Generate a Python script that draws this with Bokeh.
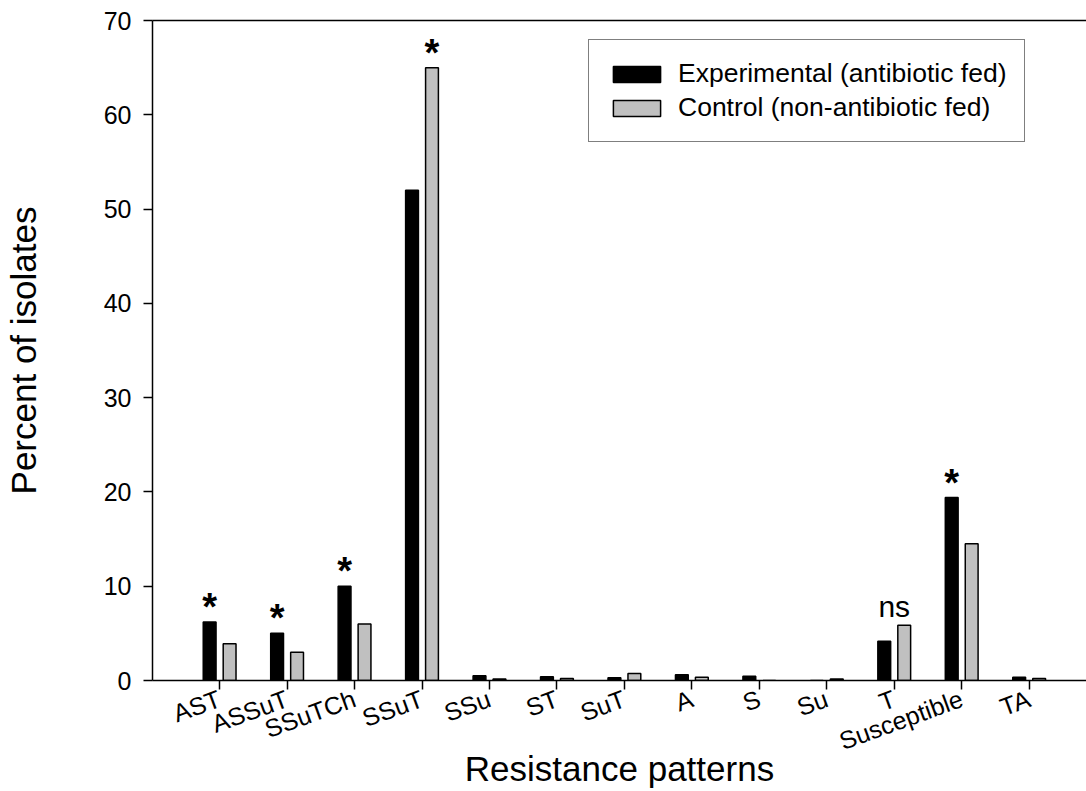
import math
from bokeh.plotting import figure
from bokeh.models import Range1d, FixedTicker, Legend, LegendItem, ColumnDataSource, LinearAxis
from bokeh.core.properties import value
from bokeh.embed import file_html
from bokeh.resources import INLINE

# ---- data ----
categories = ["AST", "ASSuT", "SSuTCh", "SSuT", "SSu", "ST", "SuT", "A", "S", "Su", "T", "Susceptible", "TA"]
experimental = [6.2, 5.0, 10.0, 52.0, 0.5, 0.4, 0.3, 0.6, 0.45, 0.0, 4.15, 19.4, 0.35]
control = [3.9, 3.0, 6.0, 65.0, 0.15, 0.2, 0.75, 0.35, 0.0, 0.15, 5.85, 14.5, 0.2]
# significance marks: (category index, text, which bar it sits over)
marks_cat = [0, 1, 2, 3, 10, 11]
marks_text = ["*", "*", "*", "*", "ns", "*"]
marks_over = ["exp", "exp", "exp", "ctl", "group", "exp"]
y_ticks = [0, 10, 20, 30, 40, 50, 60, 70]

FONT = "Liberation Sans"
OFF = 0.148
BW = 0.19

p = figure(width=1086, height=791, output_backend="svg", toolbar_location=None,
           x_range=Range1d(-0.995, 12.85), y_range=Range1d(0, 70),
           min_border_left=152, min_border_right=0, min_border_top=20, min_border_bottom=111)
p.outline_line_color = None
p.xgrid.visible = False
p.ygrid.visible = False
p.background_fill_color = "white"

idx = list(range(len(categories)))
src = ColumnDataSource(dict(
    xe=[i - OFF for i in idx], xc=[i + OFF for i in idx],
    exp=experimental, ctl=control))

r_exp = p.vbar(x="xe", top="exp", width=BW, bottom=0, source=src,
               fill_color="black", line_color="black", line_width=1.5)
r_ctl = p.vbar(x="xc", top="ctl", width=BW, bottom=0, source=src,
               fill_color="#c0c0c0", line_color="black", line_width=1.5)

# significance marks
sx, sy = [], []
ax, ay, st = [], [], []
for c, t, o in zip(marks_cat, marks_text, marks_over):
    if o == "exp":
        x, y = c - OFF, experimental[c]
    elif o == "ctl":
        x, y = c + OFF, control[c]
    else:
        x, y = c, max(experimental[c], control[c])
    if t == "*":
        sx.append(x); sy.append(y)
    else:
        ax.append(x); ay.append(y); st.append(t)

p.text(x=sx, y=sy, text=["*"] * len(sx), text_font=value(FONT), text_font_size="38px",
       text_font_style="bold", text_align="center", text_baseline="alphabetic",
       y_offset=-15, text_color="black")
p.text(x=ax, y=ay, text=st, text_font=value(FONT), text_font_size="30px",
       text_align="center", text_baseline="alphabetic", y_offset=-19, text_color="black")

# axes
for ax_ in (p.xaxis[0], p.yaxis[0]):
    ax_.axis_line_width = 1.5
    ax_.axis_line_color = "black"
    ax_.major_tick_line_width = 1.5
    ax_.major_tick_line_color = "black"
    ax_.major_tick_out = 9
    ax_.major_tick_in = 0
    ax_.minor_tick_line_color = None
    ax_.major_label_text_font = FONT
    ax_.major_label_text_font_size = "25px"
    ax_.major_label_text_color = "black"
    ax_.axis_label_text_font = FONT
    ax_.axis_label_text_font_size = "35px"
    ax_.axis_label_text_font_style = "normal"
    ax_.axis_label_text_color = "black"

p.yaxis[0].ticker = FixedTicker(ticks=y_ticks)
p.yaxis[0].major_label_standoff = 12
p.yaxis[0].axis_label = "Percent of isolates"
p.yaxis[0].axis_label_standoff = 58

p.xaxis[0].ticker = FixedTicker(ticks=idx)
p.xaxis[0].major_label_overrides = {i: c for i, c in enumerate(categories)}
p.xaxis[0].major_label_orientation = math.radians(20)
p.xaxis[0].major_label_standoff = 8
p.xaxis[0].axis_label = "Resistance patterns"
p.xaxis[0].axis_label_standoff = -22

# top frame line (plain axis line without ticks)
top = LinearAxis(ticker=FixedTicker(ticks=[]), axis_line_width=1.5, axis_line_color="black",
                 major_tick_line_color=None, minor_tick_line_color=None,
                 major_label_text_font_size="0px")
p.add_layout(top, "above")

legend = Legend(items=[LegendItem(label="Experimental (antibiotic fed)", renderers=[r_exp]),
                       LegendItem(label="Control (non-antibiotic fed)", renderers=[r_ctl])],
                location=(436, 538))
legend.border_line_color = "black"
legend.border_line_width = 1.5
legend.background_fill_color = "white"
legend.background_fill_alpha = 1
legend.padding = 18
legend.spacing = 3
legend.margin = 0
legend.glyph_width = 59
legend.glyph_height = 20
legend.label_standoff = 12
legend.label_text_font = FONT
legend.label_text_font_size = "26.5px"
legend.label_text_color = "black"
p.add_layout(legend)

open("out.html", "w").write(file_html(p, INLINE))
